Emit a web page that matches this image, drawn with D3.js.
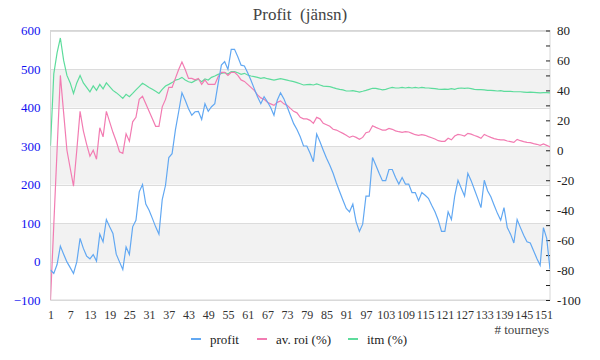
<!DOCTYPE html>
<html><head><meta charset="utf-8">
<script src="https://cdn.jsdelivr.net/npm/d3@7"></script>
<style>body{margin:0;background:#fff}svg{display:block}svg text{font-family:"Liberation Serif","DejaVu Serif",serif !important}</style>
</head><body><svg id="c" width="600" height="360"></svg>
<script>
const title = "Profit  (jänsn)";
const xLabel = "# tourneys";
const seriesNames = ["profit", "av. roi (%)", "itm (%)"];
const seriesColors = ["#62a8f2", "#f27cb2", "#5ddc9c"];
const leftTicks = [-100, 0, 100, 200, 300, 400, 500, 600];
const rightTicks = [-100, -80, -60, -40, -20, 0, 20, 40, 60, 80];
const profit = [-22,-31,-8,40,19,-1,-16,-31,-1,60,34,14,7,18,1,71,51,109,90,73,19,-1,-21,38,18,90,107,181,200,149,133,112,90,71,161,198,270,280,341,389,438,419,397,380,389,390,369,410,390,402,410,462,510,519,499,551,551,532,510,508,490,471,449,428,410,428,415,400,380,419,438,423,402,380,358,343,324,300,300,281,259,331,311,289,268,250,229,204,181,159,138,129,149,103,78,97,170,170,270,250,229,210,210,239,239,218,201,218,201,201,179,179,158,179,172,164,146,129,107,78,78,129,109,170,211,190,170,229,210,187,164,140,211,184,168,146,125,107,140,88,71,48,109,88,68,51,48,28,8,-10,88,60,-20];
const roi = [-100,-50,0,50,25,0,-12,-24,0,26,13,4,-4,0,-6,15,9,26,19,12,6,-1,-2,11,6,19,22,34,36,31,26,21,16,16,29,34,42,42,48,54,59,54,48,48,47,48,44,47,44,44,44,49,52,52,50,52,52,50,47,46,44,42,40,37,35,34,32,31,30,32,33,31,30,28,26,25,22,21,21,20,18,22,21,18,17,16,14,13.5,12.4,11.3,10,8.6,9.5,8.6,7.3,8.6,11.7,12.4,16.4,15.3,14.4,13.5,13.5,14.6,14,13,12.4,12,12.4,12.2,11.3,10.4,10,10.4,10,9.1,8.4,7.5,6.4,6,6,8,7,9.5,10.6,10.2,9.5,11.3,10.8,9.9,9.1,8,10.6,9.5,8.6,7.8,7.3,6.9,6.9,6.2,5.8,5.3,7.3,6.4,5.8,5.3,5.1,4.4,4,3.3,4.2,3.3,2.2];
const itm = [3,51,65,75,60,50,45,38,45,50,45,42,39,43,40,44,41,45,42.5,40,38.5,36.7,34.7,37.4,35.8,38,40.3,42.5,44.7,43.4,42,40.7,39.4,38,40.7,42.9,44,45.2,46.9,47.4,48.7,46.9,45.8,45.2,46.5,47.4,45.8,47.6,46.9,48.7,49.6,50.7,51.4,51.8,50.9,52.5,52.5,51.8,50.7,51.4,50.3,49.6,49.2,48.7,48.1,48.5,47.8,47.4,46.9,47.4,47.8,47.4,46.9,46.3,45.8,45.2,44.4,43.6,43.8,44,43.6,44.3,43.6,42.9,42.7,42.5,41.8,41.2,40.7,40.3,39.6,39.6,39.8,39.4,38.9,39.4,40,40.7,41.4,41.4,40.9,40.3,40.7,41.4,42,41.6,41.6,42,41.6,42,41.6,42,41.6,42,41.7,41.6,41.4,41.2,40.9,40.7,40.9,40.7,41.2,40.7,41.4,41.6,41.4,41.6,41.2,40.7,40.5,40.5,40.3,40,40,39.8,39.6,39.8,39.4,39.4,39.4,39.1,39.1,39.1,38.9,38.7,38.9,38.7,38.5,38.3,38.5,38.5,38.3];
const idx = d3.range(1, profit.length + 1);
const xTicks = idx.filter(i => (i - 1) % 6 === 0);
const FONT = '"Liberation Serif","DejaVu Serif",serif';

const svg = d3.select("#c");
const L = 50.5, R = 550, T = 30.5, B = 300;
const x = d3.scaleLinear().domain([1, profit.length]).range([L, R]);
const yL = d3.scaleLinear().domain([-100, 600]).range([B, T]);
const yR = d3.scaleLinear().domain([-100, 80]).range([B, T]);

// bands
const bands = [[400, 500], [200, 300], [0, 100]];
svg.append("g").selectAll("rect").data(bands).join("rect")
  .attr("x", L).attr("width", R - L)
  .attr("y", d => yL(d[1])).attr("height", d => yL(d[0]) - yL(d[1]))
  .attr("fill", "#f2f2f2");
// grid
svg.append("g").selectAll("line").data(leftTicks).join("line")
  .attr("x1", L).attr("x2", R).attr("y1", d => Math.round(yL(d)) + 0.5).attr("y2", d => Math.round(yL(d)) + 0.5)
  .attr("stroke", "#dcdcdc").attr("stroke-width", 1);
svg.append("rect").attr("x", L).attr("y", T).attr("width", R - L).attr("height", B - T)
  .attr("fill", "none").attr("stroke", "#d6d6d6");

// left axis labels
const gL = svg.append("g").attr("transform", `translate(${L},0)`)
  .call(d3.axisLeft(yL).tickValues(leftTicks).tickSize(0).tickPadding(10));
gL.attr("font-family", FONT);
gL.select(".domain").remove();
gL.selectAll("text").attr("fill", "#1010f0").style("font-size", "13px").style("font-family", FONT);

// right axis
const gR = svg.append("g").attr("transform", `translate(${R},0)`)
  .call(d3.axisRight(yR).tickValues(d3.range(-100, 81, 10)).tickSize(-4).tickPadding(7)
    .tickFormat(d => rightTicks.includes(d) ? d : ""));
gR.attr("font-family", FONT);
gR.select(".domain").remove();
gR.selectAll("line").attr("stroke", "#222");
gR.selectAll("text").attr("fill", "#222").style("font-size", "13px").style("font-family", FONT);

// x axis labels
const gX = svg.append("g").attr("transform", `translate(0,${B})`)
  .call(d3.axisBottom(x).tickValues(xTicks).tickSize(0).tickPadding(10).tickFormat(d3.format("d")));
gX.attr("font-family", FONT);
gX.select(".domain").remove();
gX.selectAll("text").attr("fill", "#333").style("font-size", "12px").style("font-family", FONT);

// lines
const lineL = d3.line().x((d, i) => x(i + 1)).y(d => yL(d));
const lineR = d3.line().x((d, i) => x(i + 1)).y(d => yR(d));
svg.append("clipPath").attr("id", "pc").append("rect").attr("x", L).attr("y", T - 1).attr("width", R - L).attr("height", B - T + 2);
const gl = svg.append("g").attr("clip-path", "url(#pc)");
gl.append("path").datum(itm).attr("d", lineR).attr("fill", "none").attr("stroke", seriesColors[2]).attr("stroke-width", 1.2);
gl.append("path").datum(roi).attr("d", lineR).attr("fill", "none").attr("stroke", seriesColors[1]).attr("stroke-width", 1.2);
gl.append("path").datum(profit).attr("d", lineL).attr("fill", "none").attr("stroke", seriesColors[0]).attr("stroke-width", 1.2);

// title
svg.append("text").attr("x", 300).attr("y", 20).attr("text-anchor", "middle")
  .style("white-space", "pre").attr("xml:space", "preserve")
  .attr("fill", "#444").style("font-size", "17px").text(title);
// x label
svg.append("text").attr("x", 549).attr("y", 334).attr("text-anchor", "end")
  .attr("fill", "#444").style("font-size", "13px").text(xLabel);

// legend
const legX = [191, 257, 348];
const lg = svg.append("g").selectAll("g").data(seriesNames).join("g")
  .attr("transform", (d, i) => `translate(${legX[i]},339)`);
lg.append("line").attr("x1", 0).attr("x2", 10).attr("y1", 0).attr("y2", 0)
  .attr("stroke", (d, i) => seriesColors[i]).attr("stroke-width", 2);
lg.append("text").attr("x", 19).attr("y", 4.5)
  .attr("fill", "#222").style("font-size", "13px").text(d => d);
</script></body></html>
